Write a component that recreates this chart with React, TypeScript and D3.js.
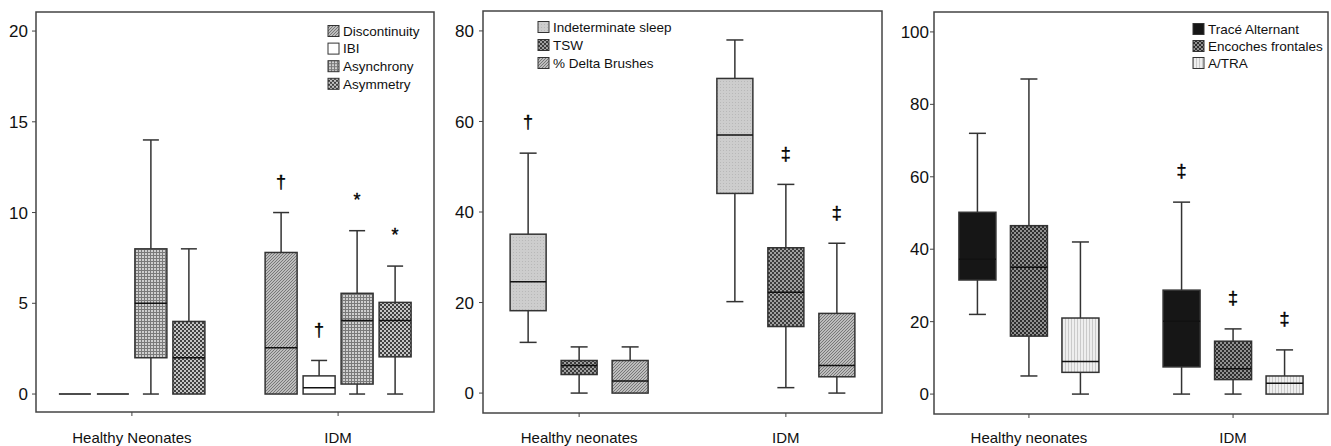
import React, { useRef, useEffect } from 'react';
import * as d3 from 'd3';

// each box: [min, q1, median, q3, max], one per group
const groups1 = ['Healthy Neonates', 'IDM'];
const series1 = ['Discontinuity', 'IBI', 'Asynchrony', 'Asymmetry'];
const discontinuity = [[0, 0, 0, 0, 0], [0, 0, 2.55, 7.8, 10]];
const ibi = [[0, 0, 0, 0, 0], [0, 0, 0.35, 1, 1.85]];
const asynchrony = [[0, 2, 5, 8, 14], [0, 0.55, 4.05, 5.55, 9]];
const asymmetry = [[0, 0, 2, 4, 8], [0, 2.05, 4.05, 5.05, 7.05]];
const marks1 = [['', '', '', ''], ['†', '†', '*', '*']];
const ticks1 = [0, 5, 10, 15, 20];

const groups2 = ['Healthy neonates', 'IDM'];
const series2 = ['Indeterminate sleep', 'TSW', '% Delta Brushes'];
const indeterminate = [[11.2, 18.2, 24.6, 35.1, 53], [20.2, 44.1, 57, 69.5, 78]];
const tsw = [[0, 4.1, 6.1, 7.2, 10.2], [1.2, 14.7, 22.3, 32.1, 46.1]];
const deltaBrushes = [[0, 0, 2.65, 7.2, 10.2], [0, 3.6, 6.1, 17.6, 33.1]];
const marks2 = [['†', '', ''], ['', '‡', '‡']];
const ticks2 = [0, 20, 40, 60, 80];

const groups3 = ['Healthy neonates', 'IDM'];
const series3 = ['Tracé Alternant', 'Encoches frontales', 'A/TRA'];
const traceAlternant = [[22, 31.5, 37.2, 50.2, 72], [0, 7.5, 20.1, 28.7, 53]];
const encoches = [[5, 16, 35, 46.5, 87], [0, 4, 7, 14.6, 18]];
const atra = [[0, 6, 9, 21, 42], [0, 0, 3, 5, 12.2]];
const marks3 = [['', '', ''], ['‡', '‡', '‡']];
const ticks3 = [0, 20, 40, 60, 80, 100];

const FONT = '"Liberation Sans", Arial, sans-serif';

const panels = [
  {
    groups: groups1, series: series1, values: [discontinuity, ibi, asynchrony, asymmetry], marks: marks1, ticks: ticks1,
    fills: ['url(#hatch)', '#ffffff', 'url(#grid)', 'url(#checkA)'],
    x0: 36, x1: 434, y0: 12, y1: 412, domain: [-0.99, 21.05], step: 38, boxW: 32, capW: 16, labelGap: 8,
    legendX: 328, legendY: 31, legendDy: 17.6,
  },
  {
    groups: groups2, series: series2, values: [indeterminate, tsw, deltaBrushes], marks: marks2, ticks: ticks2,
    fills: ['url(#indet)', 'url(#checkB)', 'url(#hatch)'],
    x0: 483, x1: 882, y0: 11, y1: 413, domain: [-4.4, 84.4], step: 51, boxW: 36, capW: 17, labelGap: 9,
    legendX: 538, legendY: 27, legendDy: 18,
  },
  {
    groups: groups3, series: series3, values: [traceAlternant, encoches, atra], marks: marks3, ticks: ticks3,
    fills: ['#161616', 'url(#checkC)', 'url(#atra)'],
    x0: 934, x1: 1328, y0: 12, y1: 414, domain: [-5.5, 105.5], step: 51.5, boxW: 37, capW: 17, labelGap: 5,
    legendX: 1193, legendY: 29, legendDy: 17,
  },
];

const App = () => {
  const ref = useRef<SVGSVGElement | null>(null);

  useEffect(() => {
    if (!ref.current) return;
    const svg = d3.select(ref.current);
    svg.selectAll('*').remove();

    // fill patterns
    const defs = svg.append('defs');
    const hatch = defs.append('pattern').attr('id', 'hatch').attr('patternUnits', 'userSpaceOnUse').attr('width', 3).attr('height', 3);
    hatch.append('rect').attr('width', 3).attr('height', 3).attr('fill', '#bdbdbd');
    hatch.append('path').attr('d', 'M-1,1 l2,-2 M0,3 l3,-3 M2,4 l2,-2').attr('stroke', '#707070').attr('stroke-width', 0.9);

    const grid = defs.append('pattern').attr('id', 'grid').attr('patternUnits', 'userSpaceOnUse').attr('width', 3).attr('height', 3);
    grid.append('rect').attr('width', 3).attr('height', 3).attr('fill', '#cfcfcf');
    grid.append('path').attr('d', 'M0,0.5 H3 M0.5,0 V3').attr('stroke', '#7a7a7a').attr('stroke-width', 1);

    const checker = (id: string, light: string, dark: string) => {
      const p = defs.append('pattern').attr('id', id).attr('patternUnits', 'userSpaceOnUse').attr('width', 4).attr('height', 4);
      p.append('rect').attr('width', 4).attr('height', 4).attr('fill', light);
      p.append('rect').attr('width', 2).attr('height', 2).attr('fill', dark);
      p.append('rect').attr('x', 2).attr('y', 2).attr('width', 2).attr('height', 2).attr('fill', dark);
    };
    checker('checkA', '#c4c4c4', '#404040');
    checker('checkB', '#a0a0a0', '#3c3c3c');
    checker('checkC', '#909090', '#2e2e2e');

    const indet = defs.append('pattern').attr('id', 'indet').attr('patternUnits', 'userSpaceOnUse').attr('width', 3).attr('height', 3);
    indet.append('rect').attr('width', 3).attr('height', 3).attr('fill', '#cdcdcd');
    indet.append('rect').attr('width', 1).attr('height', 1).attr('fill', '#b8b8b8');

    const atraP = defs.append('pattern').attr('id', 'atra').attr('patternUnits', 'userSpaceOnUse').attr('width', 3).attr('height', 3);
    atraP.append('rect').attr('width', 3).attr('height', 3).attr('fill', '#eeeeee');
    atraP.append('path').attr('d', 'M0.5,0 V3').attr('stroke', '#cacaca').attr('stroke-width', 1);

    svg.append('rect').attr('width', 1331).attr('height', 446).attr('fill', '#fff');

    panels.forEach(p => {
      const g = svg.append('g');
      const y = d3.scaleLinear().domain(p.domain).range([p.y1, p.y0]);
      const xg = d3.scalePoint<string>().domain(p.groups).range([p.x0, p.x1]).padding(0.465);
      const half = ((p.series.length - 1) * p.step) / 2;
      const xs = d3.scalePoint<string>().domain(p.series).range([-half, half]);

      // frame
      g.append('rect')
        .attr('x', p.x0).attr('y', p.y0)
        .attr('width', p.x1 - p.x0).attr('height', p.y1 - p.y0)
        .attr('fill', 'none').attr('stroke', '#444').attr('stroke-width', 1.5);

      // y ticks
      const yt = g.selectAll('.yt').data(p.ticks).enter().append('g');
      yt.append('line')
        .attr('x1', p.x0 - 4).attr('x2', p.x0)
        .attr('y1', d => y(d)).attr('y2', d => y(d))
        .attr('stroke', '#444').attr('stroke-width', 1);
      yt.append('text')
        .attr('x', p.x0 - p.labelGap).attr('y', d => y(d))
        .attr('dy', '0.36em').attr('text-anchor', 'end')
        .attr('font-family', FONT).attr('font-size', 17).attr('fill', '#111')
        .text(d => d);

      // x ticks
      const xt = g.selectAll('.xt').data(p.groups).enter().append('g');
      xt.append('line')
        .attr('x1', d => xg(d)!).attr('x2', d => xg(d)!)
        .attr('y1', p.y1).attr('y2', p.y1 + 4)
        .attr('stroke', '#444').attr('stroke-width', 1);
      xt.append('text')
        .attr('x', d => xg(d)!).attr('y', 443)
        .attr('text-anchor', 'middle')
        .attr('font-family', FONT).attr('font-size', 15).attr('fill', '#111')
        .text(d => d);

      // boxes
      p.groups.forEach((grp, gi) => {
        p.series.forEach((s, si) => {
          const [mn, q1, md, q3, mx] = p.values[si][gi];
          const cx = xg(grp)! + xs(s)!;
          const bg = g.append('g');
          bg.append('line').attr('x1', cx).attr('x2', cx).attr('y1', y(mx)).attr('y2', y(q3))
            .attr('stroke', '#333').attr('stroke-width', 1.5);
          bg.append('line').attr('x1', cx).attr('x2', cx).attr('y1', y(q1)).attr('y2', y(mn))
            .attr('stroke', '#333').attr('stroke-width', 1.5);
          if (mx > q3) {
            bg.append('line').attr('x1', cx - p.capW / 2).attr('x2', cx + p.capW / 2).attr('y1', y(mx)).attr('y2', y(mx))
              .attr('stroke', '#333').attr('stroke-width', 1.5);
          }
          if (mn < q1) {
            bg.append('line').attr('x1', cx - p.capW / 2).attr('x2', cx + p.capW / 2).attr('y1', y(mn)).attr('y2', y(mn))
              .attr('stroke', '#333').attr('stroke-width', 1.5);
          }
          bg.append('rect')
            .attr('x', cx - p.boxW / 2).attr('y', y(q3))
            .attr('width', p.boxW).attr('height', Math.max(0, y(q1) - y(q3)))
            .attr('fill', p.fills[si]).attr('stroke', '#333').attr('stroke-width', 1.5);
          bg.append('line').attr('x1', cx - p.boxW / 2).attr('x2', cx + p.boxW / 2).attr('y1', y(md)).attr('y2', y(md))
            .attr('stroke', '#111').attr('stroke-width', 1.5);
          const m = p.marks[gi][si];
          if (m) {
            bg.append('text')
              .attr('x', cx).attr('y', y(mx) - 31)
              .attr('dy', '0.35em').attr('text-anchor', 'middle')
              .attr('font-family', FONT).attr('font-size', 18).attr('fill', '#000')
              .attr('stroke', '#000').attr('stroke-width', 0.4)
              .text(m);
          }
        });
      });

      // legend
      const lg = g.selectAll('.lg').data(p.series).enter().append('g')
        .attr('transform', (d, i) => `translate(${p.legendX},${p.legendY + i * p.legendDy})`);
      lg.append('rect')
        .attr('x', 0).attr('y', -5.5).attr('width', 11).attr('height', 11)
        .attr('fill', (d, i) => p.fills[i]).attr('stroke', '#333').attr('stroke-width', 1);
      lg.append('text')
        .attr('x', 15).attr('y', 0).attr('dy', '0.36em')
        .attr('font-family', FONT).attr('font-size', 13.5).attr('fill', '#111')
        .text(d => d);
    });
  }, []);

  return (
    <svg ref={ref} width={1331} height={446} style={{ position: 'absolute', left: 0, top: 0 }} />
  );
};

export default App;
